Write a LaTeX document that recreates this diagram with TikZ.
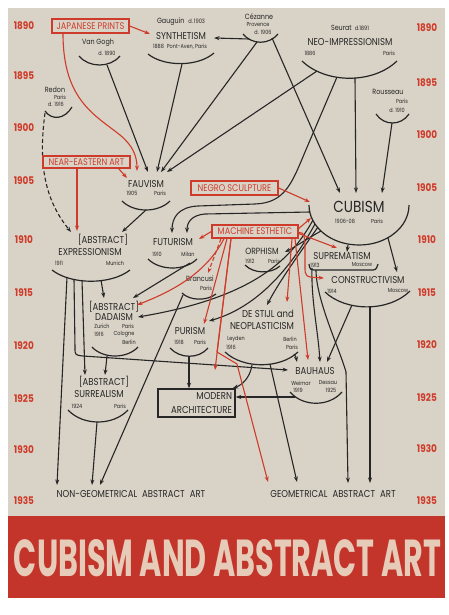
\documentclass[tikz,border=0pt]{standalone}
\usepackage{fontspec}
\setmainfont{Poppins}[FakeStretch=0.85]
\usepackage{graphicx}
\usetikzlibrary{arrows.meta}

\definecolor{paper}{HTML}{D9D3C7}
\definecolor{chartred}{HTML}{CF3B2A}
\definecolor{band}{HTML}{C3352B}
\definecolor{bandtext}{HTML}{E6CBB9}
\definecolor{ink}{HTML}{262626}

\tikzset{
  mv/.style={font=\fontsize{10}{11}\selectfont, inner sep=0pt, text=ink},
  bigmv/.style={font=\fontsize{16}{17}\selectfont, inner sep=0pt, text=ink},
  who/.style={font=\fontsize{7.5}{8}\selectfont, inner sep=0pt, text=ink},
  date/.style={font=\fontsize{5.8}{6.5}\selectfont, inner sep=0pt, text=ink},
  yr/.style={font=\fontsize{10.5}{12}\selectfont\bfseries, inner sep=0pt, text=chartred},
  src/.style={draw=chartred, line width=1.4pt, fill=paper, text=chartred, font=\fontsize{9.6}{10}\selectfont, inner sep=0pt},
  bow/.style={draw=ink, line width=1.2pt},
  infl/.style={draw=ink, line width=1.1pt, -{Stealth[length=5.5pt,width=4pt]}},
  rinfl/.style={draw=chartred, line width=1.1pt, -{Stealth[length=5.5pt,width=4pt]}},
}

\begin{document}
\begin{tikzpicture}[x=1pt, y=-1pt]
    % Page and band
    \useasboundingbox (0,0) rectangle (449,615);
    \fill[white] (0,0) rectangle (449,615);
    \fill[paper] (8,8) rectangle (445,516);
    \fill[band] (8,516) rectangle (445,598);

    % Years
    \foreach \yy/\ly/\ry in {1890/26/28, 1895/76/83, 1900/128/135, 1905/181/188, 1910/240/240,
                            1915/293/293, 1920/346/345, 1925/399/398, 1930/450/449, 1935/501/501} {
        \node[yr] (yl\yy) at (24,\ly) {\yy};
        \node[yr] (yr\yy) at (427,\ry) {\yy};
    }

    % Sources and painters
    \node[src, minimum width=77pt, minimum height=14pt] (jap) at (90.5,26) {JAPANESE PRINTS};
    \node[who] (gau) at (181,22) {Gauguin\hspace{4pt}{\fontsize{6}{7}\selectfont d.\,1903}};
    \node[mv] (syn) at (181,36) {SYNTHETISM};
    \node[date] (syn-d) at (180,47) {1888\enspace Pont-Aven, Paris};
    \node[who] (vg) at (98,43) {Van Gogh};
    \node[date] (vg-d) at (107,53) {d. 1890};
    \node[who] (cez) at (259,17) {Cézanne};
    \node[date] (cez-p) at (258,25) {Provence};
    \node[date] (cez-d) at (263,32) {d. 1906};
    \node[who] (seu) at (350,28) {Seurat\hspace{3pt}{\fontsize{6}{7}\selectfont d.1891}};
    \node[mv] (neo) at (350,42) {NEO-IMPRESSIONISM};
    \node[date] (neo-y) at (310,53) {1886};
    \node[date] (neo-p) at (389,53) {Paris};
    \node[who] (rou) at (388,92) {Rousseau};
    \node[date] (rou-p) at (402,101) {Paris};
    \node[date] (rou-d) at (397,110) {d. 1910};
    \node[who] (rdn) at (55,90) {Redon};
    \node[date] (rdn-p) at (60,97) {Paris};
    \node[date] (rdn-d) at (56,104) {d. 1916};

    % Bows under the names
    \draw[bow] (79,56) .. controls (89,68) and (110,68) .. (120,56);
    \draw[bow] (148,54) .. controls (164,67) and (198,67) .. (214,53);
    \draw[bow] (243,34) .. controls (252,45) and (269,45) .. (278,34);
    \draw[bow] (302,61) .. controls (326,84) and (373,84) .. (397,61);
    \draw[bow] (376,114) .. controls (384,126) and (401,126) .. (409,114);
    \draw[bow] (45,111) .. controls (52,121) and (65,119) .. (72,107);

    % Anchor points
    \coordinate (vg-o) at (107,65);
    \coordinate (syn-o) at (182,64);
    \coordinate (syn-i) at (150,34);
    \coordinate (syn-e) at (214,38);
    \coordinate (cez-w) at (249,39);
    \coordinate (cez-l) at (257,42);
    \coordinate (cez-r) at (272,38);
    \coordinate (neo-1) at (317,71);
    \coordinate (neo-2) at (337,77);
    \coordinate (neo-3) at (355,78);
    \coordinate (rou-o) at (392,123);
    \coordinate (rdn-o) at (45,113);

    % Redon dashed line (under the box)
    \draw[infl, dash pattern=on 4pt off 2.5pt] (rdn-o) .. controls (38,165) and (45,200) .. (71,232) coordinate (ex-i1);

    \node[src, minimum width=87pt, minimum height=12pt] (ne) at (86.5,162) {NEAR-EASTERN ART};
    \node[src, minimum width=87pt, minimum height=14pt] (negro) at (234.5,188) {NEGRO SCULPTURE};
    \node[src, minimum width=86pt, minimum height=13pt] (mach) at (255,231.5) {MACHINE ESTHETIC};

    % Movements
    \node[mv] (fauv) at (146,184) {FAUVISM};
    \node[date] (fauv-y) at (132,193) {1905};
    \node[date] (fauv-p) at (160,193) {Paris};
    \draw[bow] (122,201) .. controls (134,213) and (158,213) .. (170,201);

    \node[mv] (expr-a) at (103,240) {[ABSTRACT]};
    \node[mv] (expr) at (90,252) {EXPRESSIONISM};
    \node[date] (expr-y) at (59,263) {1911};
    \node[date] (expr-p) at (115,263) {Munich};
    \draw[bow] (52,270) .. controls (71,285) and (111,285) .. (130,270);

    \node[mv] (fut) at (173,242) {FUTURISM};
    \node[date] (fut-y) at (157,254) {1910};
    \node[date] (fut-p) at (188,254) {Milan};
    \draw[bow] (148,259) .. controls (160,271) and (185,271) .. (197,259);

    \node[bigmv] (cub) at (359,207) {CUBISM};
    \node[date] (cub-y) at (345,221) {1906-08};
    \node[date] (cub-p) at (377,221) {Paris};
    \draw[bow] (309,205) .. controls (309,227) and (331,245) .. (359,245) .. controls (387,245) and (409,227) .. (409,205);

    \node[mv, font=\fontsize{9}{10}\selectfont] (orph) at (262,251) {ORPHISM};
    \node[date] (orph-y) at (250,261) {1912};
    \node[date] (orph-p) at (274,261) {Paris};
    \draw[bow] (245,265) .. controls (254,274) and (271,274) .. (280,266);

    \node[mv] (supr) at (342,256) {SUPREMATISM};
    \node[date] (supr-y) at (315,265) {1913};
    \node[date] (supr-p) at (362,265) {Moscow};
    \draw[bow] (309,264) .. controls (310,270) .. (318,270) -- (370,270) .. controls (376,270) .. (378,264);

    \node[mv] (cons) at (368,280) {CONSTRUCTIVISM};
    \node[date] (cons-y) at (332,291) {1914};
    \node[date] (cons-p) at (398,291) {Moscow};
    \draw[bow] (325,292) .. controls (346,312) and (389,312) .. (410,291);

    \node[who] (bran) at (200,279) {Brancusi};
    \node[date] (bran-p) at (206,288) {Paris};
    \draw[bow] (182,293) .. controls (190,301) and (207,301) .. (216,294);

    \node[mv] (dada-a) at (114,307) {[ABSTRACT]};
    \node[mv] (dada) at (114,317) {DADAISM};
    \node[date] (dada-z) at (102,326) {Zurich};
    \node[date] (dada-p) at (128,326) {Paris};
    \node[date] (dada-y) at (99,334) {1916};
    \node[date] (dada-c) at (124,334) {Cologne};
    \node[date] (dada-b) at (129,342) {Berlin};
    \draw[bow] (92,347) .. controls (103,359) and (127,359) .. (138,347);

    \node[mv] (puri) at (190,331) {PURISM};
    \node[date] (puri-y) at (179,342) {1918};
    \node[date] (puri-p) at (200,342) {Paris};
    \draw[bow] (170,348) .. controls (180,359) and (199,359) .. (208,348);

    \node[mv] (stijl) at (268,314) {DE STIJL and};
    \node[mv] (neopl) at (262,326) {NEOPLASTICISM};
    \node[date] (stijl-l) at (236,339) {Leyden};
    \node[date] (stijl-y) at (231,347) {1916};
    \node[date] (stijl-b) at (290,339) {Berlin};
    \node[date] (stijl-p) at (292,347) {Paris};
    \draw[bow] (225,352) .. controls (243,369) and (280,369) .. (298,352);

    \node[mv] (bau) at (315,371) {BAUHAUS};
    \node[date] (bau-w) at (301,383) {Weimar};
    \node[date] (bau-d) at (328,383) {Dessau};
    \node[date] (bau-y1) at (298,390) {1919};
    \node[date] (bau-y2) at (331,390) {1925};
    \draw[bow] (290,392) .. controls (303,407) and (329,407) .. (342,392);

    \node[draw=ink, line width=1.4pt, minimum width=77pt, minimum height=28pt, inner sep=3pt,
          text width=71pt, align=right, text=ink, font=\fontsize{10}{14}\selectfont] (ma) at (196.5,403) {MODERN\\ARCHITECTURE};

    \node[mv] (surr-a) at (104,382) {[ABSTRACT]};
    \node[mv] (surr) at (99,394) {SURREALISM};
    \node[date] (surr-y) at (77,406) {1924};
    \node[date] (surr-p) at (120,406) {Paris};
    \draw[bow] (68,410) .. controls (83,426) and (113,426) .. (128,410);

    \node[mv] (nongeo) at (131,494) {NON-GEOMETRICAL\enspace ABSTRACT\enspace ART};
    \node[mv] (geo) at (333,494) {GEOMETRICAL\enspace ABSTRACT\enspace ART};

    % Points on the bows
    \coordinate (fv-i1) at (127,178); \coordinate (fv-i2) at (137,171);
    \coordinate (fv-i3) at (148,172); \coordinate (fv-i4) at (157,172);
    \coordinate (fv-i5) at (161,172); \coordinate (fv-i6) at (167,172);
    \coordinate (fv-o) at (146,210);
    \coordinate (ex-i2) at (77,231); \coordinate (ex-i3) at (122,232);
    \coordinate (ex-o1) at (67,277); \coordinate (ex-o2) at (74,279);
    \coordinate (ex-o3) at (82,280); \coordinate (ex-o4) at (101,280);
    \coordinate (cb-i1) at (340,193); \coordinate (cb-i2) at (356,193); \coordinate (cb-i3) at (382,193);
    \coordinate (cb-w) at (310,212); \coordinate (cb-n) at (310,202); \coordinate (cb-m) at (311,218);
    \coordinate (cb-o1) at (313,220); \coordinate (cb-o2) at (315,224);
    \coordinate (cb-o3) at (318,227); \coordinate (cb-o4) at (321,231);
    \coordinate (cb-s) at (348,245); \coordinate (cb-e) at (388,238);
    \coordinate (fu-i1) at (172,233); \coordinate (fu-i2) at (187,233); \coordinate (fu-i3) at (199,239);
    \coordinate (fu-o) at (190,263);
    \coordinate (or-i) at (285,252);
    \coordinate (su-i1) at (337,248); \coordinate (su-i2) at (347,252);
    \coordinate (su-o1) at (312,268); \coordinate (su-o2) at (316,270);
    \coordinate (co-i1) at (324,278); \coordinate (co-i2) at (397,272);
    \coordinate (co-o1) at (352,305); \coordinate (co-o2) at (370,307);
    \coordinate (br-i) at (208,273); \coordinate (br-o) at (183,295);
    \coordinate (da-i1) at (104,298); \coordinate (da-i2) at (133,298);
    \coordinate (da-i3) at (137,305); \coordinate (da-i4) at (138,317);
    \coordinate (da-o) at (107,356);
    \coordinate (pu-i1) at (204,324); \coordinate (pu-i2) at (209,321); \coordinate (pu-o) at (189,356);
    \coordinate (ds-i1) at (267,305); \coordinate (ds-i2) at (287,302);
    \coordinate (ds-o1) at (252,365); \coordinate (ds-o2) at (270,364); \coordinate (ds-o3) at (294,354);
    \coordinate (ba-i1) at (288,370); \coordinate (ba-i2) at (297,362); \coordinate (ba-i3) at (308,360);
    \coordinate (ba-i4) at (320,362); \coordinate (ba-i5) at (327,362); \coordinate (ba-o) at (295,397);
    \coordinate (ma-i3) at (215,370);
    \coordinate (sr-i1) at (85,375); \coordinate (sr-i2) at (105,375); \coordinate (sr-o) at (97,422);
    \coordinate (ng-i1) at (57,485); \coordinate (ng-i2) at (92,485); \coordinate (ng-i3) at (100,485);
    \coordinate (ge-i1) at (268,482); \coordinate (ge-i2) at (297,482);
    \coordinate (ge-i3) at (348,483); \coordinate (ge-i4) at (370,483);

    % Black influences
    \draw[infl] (cez-w) -- (syn-e);
    \draw[infl] (vg-o) -- (fv-i3);
    \draw[infl] (syn-o) -- (fv-i4);
    \draw[infl] (cez-l) -- (fv-i5);
    \draw[infl] (neo-1) -- (fv-i6);
    \draw[infl] (cez-r) -- (cb-i1);
    \draw[infl] (neo-3) -- (cb-i2);
    \draw[infl] (rou-o) -- (cb-i3);
    \draw[infl] (neo-2) -- (305,152) .. controls (292,183) and (285,203) .. (255,204) -- (198,206) .. controls (178,207) and (172,218) .. (fu-i1);
    \draw[infl] (cb-w) -- (205,214) .. controls (192,215) and (187,222) .. (fu-i2);
    \draw[infl] (fv-o) -- (ex-i3);
    \draw[infl] (ex-o1) -- (ng-i1);
    \draw[infl] (ex-o2) -- (75,348) .. controls (75,355) .. (83,356) -- (ba-i1);
    \draw[infl] (ex-o3) -- (sr-i1);
    \draw[infl] (ex-o4) -- (da-i1);
    \draw[infl] (fu-o) -- (da-i2);
    \draw[infl] (cb-o1) .. controls (290,262) and (250,298) .. (da-i4);
    \draw[infl] (cb-o2) .. controls (298,255) and (265,305) .. (pu-i2);
    \draw[infl] (cb-o3) .. controls (302,250) and (280,280) .. (ds-i1);
    \draw[infl] (cb-o4) .. controls (305,240) and (295,247) .. (or-i);
    \draw[infl] (cb-s) -- (su-i2);
    \draw[infl] (cb-e) -- (co-i2);
    \draw[infl] (su-o1) .. controls (311,300) and (318,330) .. (ba-i4);
    \draw[infl] (su-o2) .. controls (316,300) and (340,350) .. (346,372) -- (ge-i3);
    \draw[infl] (co-o1) -- (ba-i5);
    \draw[infl] (co-o2) -- (ge-i4);
    \draw[infl] (ds-o3) .. controls (296,357) .. (ba-i2);
    \draw[infl] (ds-o1) .. controls (250,378) and (242,385) .. ([xshift=-3pt]ma.north east);
    \draw[infl] (ds-o2) -- (ge-i2);
    \draw[infl] (pu-o) -- (pu-o |- ma.north);
    \draw[infl] (ba-o) -- ([yshift=6pt]ma.east);
    \draw[infl] (br-o) -- (ng-i3);
    \draw[infl] (da-o) -- (sr-i2);
    \draw[infl] (sr-o) -- (ng-i2);

    % Red influences
    \draw[rinfl] (jap.east) -- (syn-i);
    \draw[rinfl] ([xshift=-27.5pt]jap.south) .. controls (63,100) and (95,115) .. (120,135) .. controls (132,145) and (137,155) .. (fv-i2);
    \draw[rinfl] ([xshift=-12pt]ne.south east) -- (fv-i1);
    \draw[rinfl] ([xshift=-9.5pt]ne.south) -- (ex-i2);
    \draw[rinfl] (negro.east) -- (cb-n);
    \draw[rinfl] ([yshift=3pt]mach.east) -- (cb-m);
    \draw[rinfl] ([yshift=-2pt]mach.east) -- (su-i1);
    \draw[rinfl] ([yshift=-1pt]mach.east) .. controls (304,233) .. (305,245) -- (305,266) .. controls (305,277) .. (co-i1);
    \draw[rinfl] (mach.west) -- (fu-i3);
    \draw[rinfl, dash pattern=on 4pt off 2.5pt] ([xshift=-34pt]mach.south) -- (br-i);
    \draw[rinfl] ([xshift=-31pt]mach.south) .. controls (205,275) and (170,292) .. (da-i3);
    \draw[rinfl] ([xshift=-28pt]mach.south) -- (pu-i1);
    \draw[rinfl] ([xshift=-24pt]mach.south) -- (ma-i3);
    \draw[rinfl] ([xshift=-24pt]mach.south) -- (217,352) -- (237,364) -- (ge-i1);
    \draw[rinfl] ([xshift=37pt]mach.south) -- (ds-i2);
    \draw[rinfl] ([xshift=40pt]mach.south) -- (ba-i3);

    % Title
    \node[text=bandtext, inner sep=0pt] (title) at (227.5,558.5) {\resizebox{427pt}{37pt}{\bfseries CUBISM AND ABSTRACT ART}};
\end{tikzpicture}
\end{document}
